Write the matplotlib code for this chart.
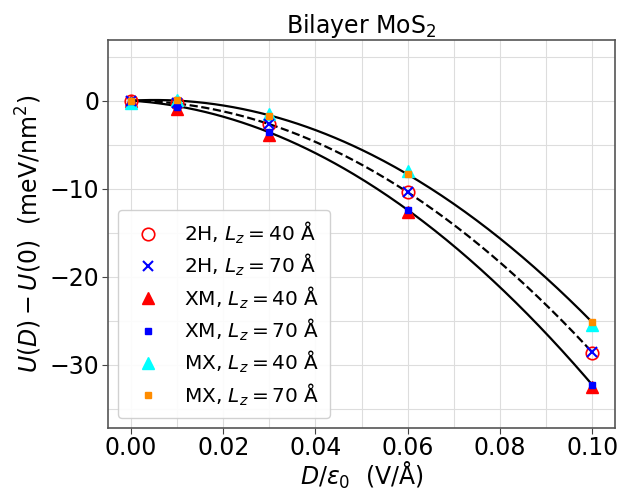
import matplotlib
matplotlib.use("Agg")
import matplotlib.pyplot as plt
import numpy as np
from matplotlib.ticker import MultipleLocator

# field values D/eps0 (V/A)
D = [0.0, 0.01, 0.03, 0.06, 0.10]

# U(D) - U(0) in meV/nm^2
u_2h_40 = [0.0, -0.3, -2.7, -10.4, -28.7]
u_2h_70 = [0.0, -0.3, -2.7, -10.4, -28.6]
u_xm_40 = [0.0, -0.9, -3.9, -12.7, -32.6]
u_xm_70 = [0.0, -0.7, -3.6, -12.4, -32.3]
u_mx_40 = [-0.3, 0.1, -1.5, -8.0, -25.5]
u_mx_70 = [0.0, 0.1, -1.8, -8.3, -25.2]


def fit_curve(x, y):
    # quadratic through the origin: a*x^2 + b*x
    x = np.asarray(x)
    A = np.vstack([x**2, x]).T
    coef = np.linalg.lstsq(A, np.asarray(y), rcond=None)[0]
    return coef


fig = plt.figure(figsize=(6.31, 4.93), dpi=100)
ax = fig.add_axes([0.171, 0.132, 0.804, 0.787])

xs = np.linspace(0, 0.1, 200)
for ys, style in [(u_mx_70, "-"), (u_xm_70, "-"), (u_2h_70, "--")]:
    a, b = fit_curve(D, ys)
    ax.plot(xs, a * xs**2 + b * xs, style, color="black", lw=1.6, zorder=2)

ax.plot(D, u_2h_40, "o", mfc="none", mec="red", ms=9, mew=1.2, ls="none", label=r"2H, $L_z = 40$ Å", zorder=3)
ax.plot(D, u_2h_70, "x", color="blue", ms=7, mew=1.5, ls="none", label=r"2H, $L_z = 70$ Å", zorder=4)
ax.plot(D, u_xm_40, "^", color="red", ms=9, ls="none", label=r"XM, $L_z = 40$ Å", zorder=3)
ax.plot(D, u_xm_70, "s", color="blue", ms=5, ls="none", label=r"XM, $L_z = 70$ Å", zorder=4)
ax.plot(D, u_mx_40, "^", color="cyan", ms=9, ls="none", label=r"MX, $L_z = 40$ Å", zorder=3)
ax.plot(D, u_mx_70, "s", color="darkorange", ms=5, ls="none", label=r"MX, $L_z = 70$ Å", zorder=4)

ax.set_xlim(-0.005, 0.105)
ax.set_ylim(-37.2, 6.9)
ax.xaxis.set_major_locator(MultipleLocator(0.02))
ax.xaxis.set_minor_locator(MultipleLocator(0.01))
ax.yaxis.set_major_locator(MultipleLocator(10))
ax.yaxis.set_minor_locator(MultipleLocator(5))
ax.grid(which="both", color="#dddddd", lw=0.8)
ax.set_axisbelow(True)
ax.tick_params(which="minor", length=0)
ax.tick_params(which="major", labelsize=17, length=4, pad=2, color="#444444")
for s in ax.spines.values():
    s.set_color("#555555")
    s.set_linewidth(1.2)

ax.set_xlabel(r"$D/\varepsilon_0$  (V/Å)", fontsize=17, labelpad=0)
ax.set_ylabel(r"$U(D) - U(0)$  (meV/nm$^2$)", fontsize=17, labelpad=4)
ax.set_title(r"Bilayer MoS$_2$", fontsize=17, pad=3)

ax.legend(loc="lower left", fontsize=14.5, handletextpad=0.8, borderpad=0.5, labelspacing=0.3, framealpha=0.9)

fig.savefig("out.png", dpi=100)
